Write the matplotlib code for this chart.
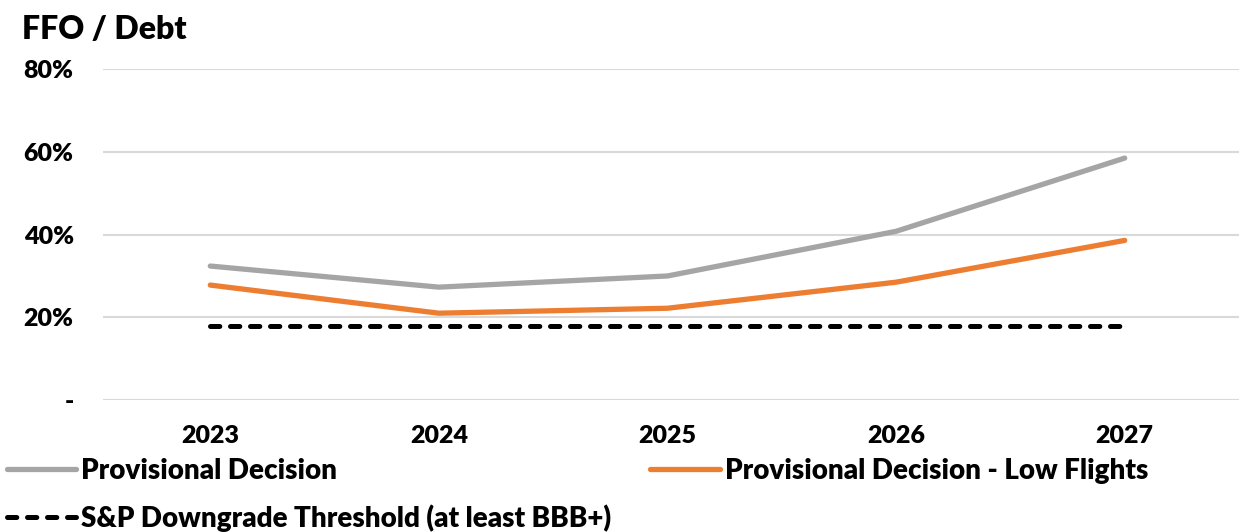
import matplotlib.pyplot as plt
from matplotlib.lines import Line2D

plt.rcParams['font.family'] = ['Lato', 'DejaVu Sans']
plt.rcParams['font.weight'] = 'heavy'

# Datos
years = ["2023", "2024", "2025", "2026", "2027"]
provisional = [32.4, 27.3, 30.0, 40.8, 58.5]
low_flights = [27.8, 21.0, 22.2, 28.5, 38.6]
threshold = [18.0, 18.0, 18.0, 18.0, 18.0]
y_ticks = [0, 20, 40, 60, 80]
y_labels = ["-", "20%", "40%", "60%", "80%"]

GRIS = "#A5A5A5"
NARANJA = "#ED7D31"
GUIONES = (0, (1.86, 2.14))

fig = plt.figure(figsize=(12.39, 5.32), dpi=100)
ax = fig.add_axes([0.083, 0.248, 0.917, 0.622])

x = range(len(years))
ax.plot(x, provisional, color=GRIS, lw=3.8, solid_capstyle="round", zorder=3)
ax.plot(x, low_flights, color=NARANJA, lw=3.8, solid_capstyle="round", zorder=3)
ax.plot(x, threshold, color="black", lw=3.6, linestyle=GUIONES,
        dash_capstyle="round", zorder=3)

ax.set_xlim(-0.47, 4.5)
ax.set_ylim(0, 80)
ax.set_yticks(y_ticks)
ax.set_yticklabels(y_labels)
ax.set_xticks(list(x))
ax.set_xticklabels(years)
ax.grid(axis="y", color="#D9D9D9", lw=1.5)
ax.set_axisbelow(True)
ax.tick_params(axis="y", length=0, pad=21, labelsize=18)
ax.tick_params(axis="x", length=0, pad=18, labelsize=18)
for s in ax.spines.values():
    s.set_visible(False)

fig.text(0.018, 0.945, "FFO / Debt", fontsize=23, fontweight="heavy", va="center")

# Leyenda en la parte inferior
h1 = Line2D([], [], color=GRIS, lw=3.8, solid_capstyle="round")
h2 = Line2D([], [], color=NARANJA, lw=3.8, solid_capstyle="round")
h3 = Line2D([], [], color="black", lw=3.6, linestyle=GUIONES, dash_capstyle="round")
fig.legend([h1, h3, h2],
           ["Provisional Decision", "S&P Downgrade Threshold (at least BBB+)",
            "Provisional Decision - Low Flights"],
           loc="upper left", bbox_to_anchor=(0.0056, 0.139), ncol=2, frameon=False,
           prop={"size": 20, "weight": "heavy"}, handlelength=2.5,
           handletextpad=0.18, columnspacing=1.4,
           labelspacing=0.72, borderaxespad=0, borderpad=0)

fig.savefig("out.png", dpi=100)
